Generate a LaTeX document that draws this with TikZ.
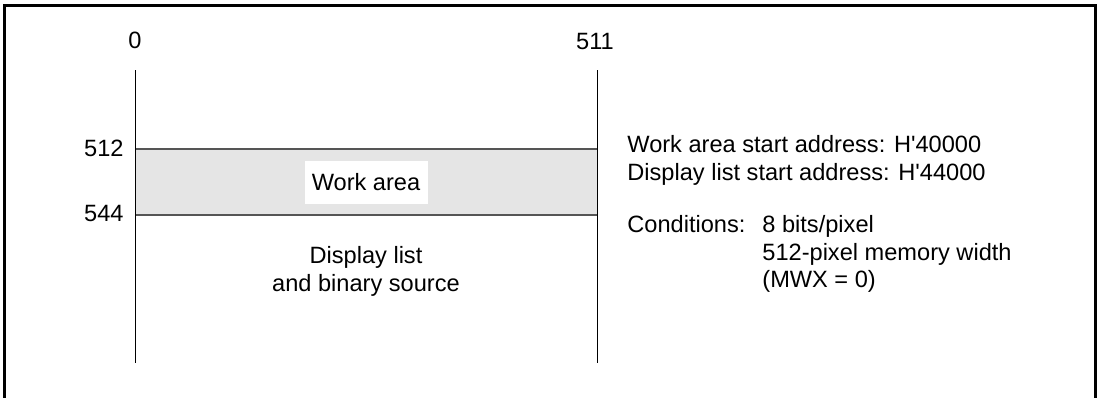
\documentclass[tikz,border=0pt]{standalone}
\usepackage{fontspec}
\setmainfont{Liberation Sans}
\usetikzlibrary{positioning}
\definecolor{bandgray}{HTML}{E5E5E5}
\definecolor{edgegray}{HTML}{555555}

\begin{document}
\begin{tikzpicture}[
  x=0.5pt,y=-0.5pt,
  font=\fontsize{11.8}{13.8}\selectfont,
  frame/.style={draw=black,line width=1.5pt},
  column/.style={draw=black,line width=0.5pt},
  bandedge/.style={draw=edgegray,line width=0.6pt},
  num/.style={inner sep=0pt},
  tag/.style={fill=white,inner sep=0pt,minimum width=61.5pt,minimum height=21.5pt},
  note/.style={align=left,inner sep=0pt,anchor=base west}
]
\useasboundingbox (0,0) rectangle (1101,397);
% outer frame, open at the bottom
\draw[frame] (4.5,420) -- (4.5,5.5) -- (1095.5,5.5) -- (1095.5,420);

% memory columns
\coordinate (lt) at (135,70);
\coordinate (lb) at (135,363);
\coordinate (rt) at (597,70);
\coordinate (rb) at (597,363);
\coordinate (wl) at (135,149);
\coordinate (wr) at (597,149);
\coordinate (dl) at (135,215);
\coordinate (dr) at (597,215);

\fill[bandgray] (wl) rectangle (dr);
\draw[bandedge] (wl) -- (wr);
\draw[bandedge] (dl) -- (dr);
\draw[column] (lt) -- (lb);
\draw[column] (rt) -- (rb);

\node[num,anchor=base] (xfirst) at (135,48) {0};
\node[num,anchor=base] (xlast) at (595,49) {511};
\node[num,anchor=base east] (yfirst) at (124,156) {512};
\node[num,anchor=base east] (ysecond) at (124,221) {544};

\node[tag] (work) at (366,182.5) {Work area};
% multi-line nodes sit on the baseline of their last line
\node[align=center,inner sep=0pt,anchor=base] (dlist) at (366,291)
  {Display list\\and binary source};

\node[note] (addr) at (627,180)
  {Work area start address: H\textquotesingle 40000\\
   Display list start address: H\textquotesingle 44000};
\node[note] (cond) at (627,232.7) {Conditions:};
\node[note] (condlist) at (762,287.7)
  {8 bits/pixel\\512-pixel memory width\\(MWX = 0)};
\end{tikzpicture}
\end{document}
